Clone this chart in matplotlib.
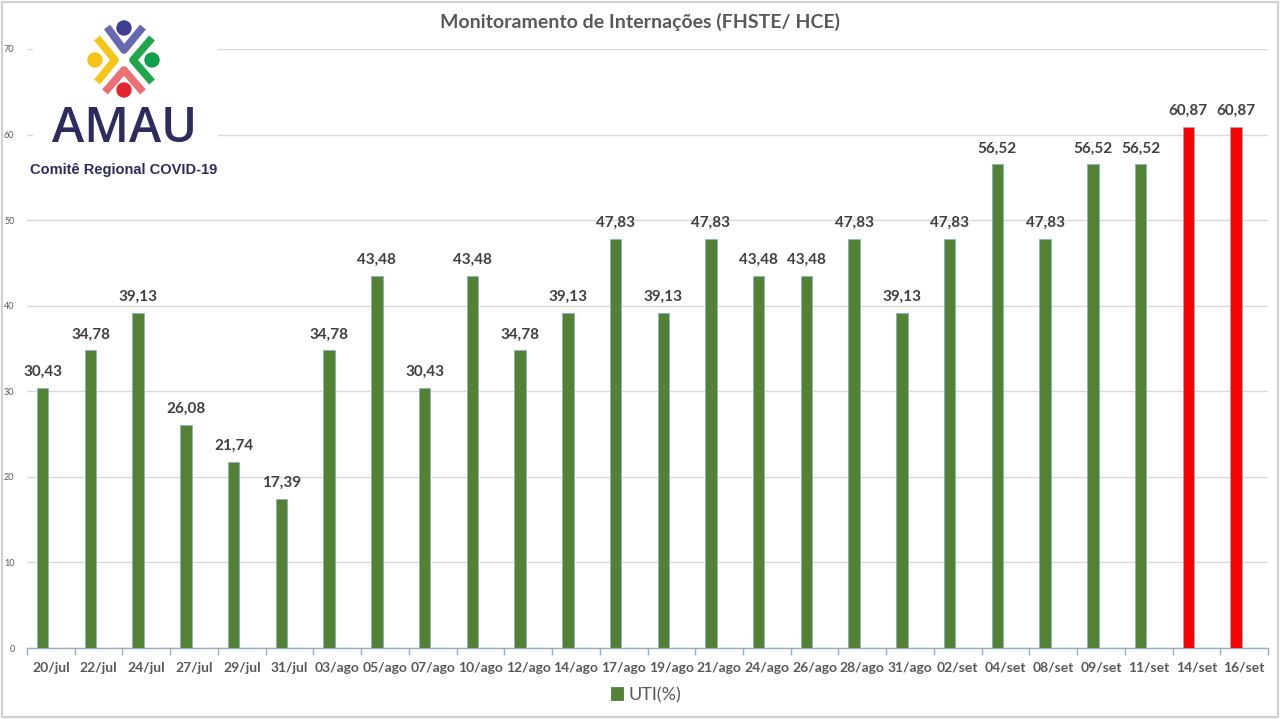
import matplotlib
matplotlib.use("Agg")
import matplotlib.pyplot as plt
from matplotlib.patches import Circle, Rectangle
import numpy as np

plt.rcParams['font.family'] = ['Lato', 'DejaVu Sans']

categories = ["20/jul", "22/jul", "24/jul", "27/jul", "29/jul", "31/jul", "03/ago", "05/ago",
              "07/ago", "10/ago", "12/ago", "14/ago", "17/ago", "19/ago", "21/ago", "24/ago",
              "26/ago", "28/ago", "31/ago", "02/set", "04/set", "08/set", "09/set", "11/set",
              "14/set", "16/set"]
uti = [30.43, 34.78, 39.13, 26.08, 21.74, 17.39, 34.78, 43.48, 30.43, 43.48, 34.78, 39.13,
       47.83, 39.13, 47.83, 43.48, 43.48, 47.83, 39.13, 47.83, 56.52, 47.83, 56.52, 56.52,
       60.87, 60.87]
highlight = [False] * 24 + [True, True]
yticks = [0, 10, 20, 30, 40, 50, 60, 70]
title = "Monitoramento de Internações (FHSTE/ HCE)"
series_name = "UTI(%)"

GREEN = "#548235"
RED = "#FF0000"
TXT = "#595959"

W, H = 1280, 719
fig = plt.figure(figsize=(12.8, 7.19), dpi=100)
fig.patch.set_facecolor("white")

ax = fig.add_axes([27 / W, 1 - 648 / H, (1268 - 27) / W, (648 - 49) / H])
x = np.arange(len(categories))
colors = [RED if h else GREEN for h in highlight]
off = -0.17
bars = ax.bar(x + off, uti, width=0.24, color=colors, edgecolor="#8fb0c8", linewidth=0.6,
              zorder=3, label=series_name)

for xi, v in zip(x, uti):
    ax.annotate(f"{v:.2f}".replace(".", ","), (xi + off, v), xytext=(0, 6.5),
                textcoords="offset points", ha="center", va="bottom",
                fontsize=11, fontweight="bold", color="#404040", zorder=4)

ax.set_xlim(-0.5, len(categories) - 0.5)
ax.set_ylim(0, 70)
ax.set_yticks(yticks)
ax.set_yticklabels([str(t) for t in yticks], fontsize=6.5, color=TXT)
ax.tick_params(axis="y", length=0, pad=9)
ax.grid(axis="y", color="#d9d9d9", linewidth=1, zorder=0)
ax.set_axisbelow(True)

ax.set_xticks(x)
ax.set_xticklabels(categories, fontsize=10, fontweight="bold", color=TXT)
ax.set_xticks(np.arange(-0.5, len(categories)), minor=True)
ax.tick_params(axis="x", which="major", length=0, pad=10)
ax.tick_params(axis="x", which="minor", length=5, color="#8fb0c8", width=1)

for s in ["top", "right", "left"]:
    ax.spines[s].set_visible(False)
ax.spines["bottom"].set_color("#8fb0c8")
ax.spines["bottom"].set_linewidth(1)

fig.text(640 / W, 1 - 22 / H, title, ha="center", va="center", fontsize=14,
         fontweight="bold", color=TXT)

leg = fig.legend(handles=[bars[0]], labels=[series_name], loc="center",
                 bbox_to_anchor=(646 / W, 1 - 695 / H), frameon=False, fontsize=13,
                 handlelength=0.7, handleheight=0.7, handletextpad=0.3)
for t in leg.get_texts():
    t.set_color(TXT)
leg.legend_handles[0].set_color(GREEN)

# overlay for logo and border
ov = fig.add_axes([0, 0, 1, 1], zorder=10)
ov.set_xlim(0, W)
ov.set_ylim(H, 0)
ov.axis("off")
ov.patch.set_alpha(0)
ov.add_patch(Rectangle((1.5, 1.5), W - 4, H - 4, fill=False, edgecolor="#d0d0d0", linewidth=1.5))
ov.add_patch(Rectangle((33, 12), 185, 170, facecolor="white", edgecolor="none"))

lw = 5.5
ov.plot([107, 124, 143], [27, 50, 27], color="#6669b0", lw=lw, solid_capstyle="butt")
ov.plot([97, 115, 97], [38, 60, 82], color="#f5c518", lw=lw, solid_capstyle="butt")
ov.plot([152, 133, 152], [38, 60, 82], color="#1fa64a", lw=lw, solid_capstyle="butt")
ov.plot([105, 124, 143], [92, 70, 92], color="#ec6f73", lw=lw, solid_capstyle="butt")
ov.add_patch(Circle((124, 28), 7, color="#3d3f95"))
ov.add_patch(Circle((95, 60), 7, color="#f7c21a"))
ov.add_patch(Circle((152, 60), 7, color="#0fa04a"))
ov.add_patch(Circle((124, 90), 7, color="#e3262e"))
ov.text(125, 130, "AMAU", ha="center", va="center", fontsize=35, color="#2e2b5f",
        fontweight="semibold", family=["Open Sans", "DejaVu Sans"])
ov.text(124, 170, "Comitê Regional COVID-19", ha="center", va="center", fontsize=10.5,
        color="#2e2b5f", fontweight="bold", family=["Liberation Sans", "DejaVu Sans"])

fig.savefig("out.png", dpi=100, facecolor="white")
